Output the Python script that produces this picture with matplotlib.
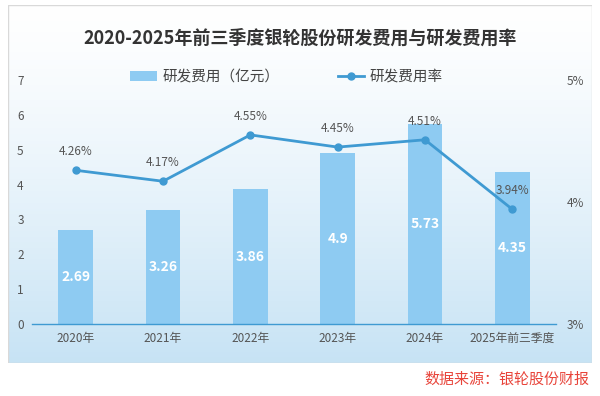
import numpy as np
import matplotlib
matplotlib.use("Agg")
import matplotlib.pyplot as plt
from matplotlib.patches import Rectangle

plt.rcParams['font.family'] = ['Noto Sans CJK SC', 'DejaVu Sans']

# data
years = ['2020年', '2021年', '2022年', '2023年', '2024年', '2025年前三季度']
rd_cost = [2.69, 3.26, 3.86, 4.9, 5.73, 4.35]
rd_rate = [4.26, 4.17, 4.55, 4.45, 4.51, 3.94]
left_ticks = [0, 1, 2, 3, 4, 5, 6, 7]
right_ticks = [3, 4, 5]

bar_color = '#8ecbf2'
line_color = '#3f9ad2'
text_gray = '#555555'

fig = plt.figure(figsize=(6, 3.96), dpi=100)

# panel background with a soft vertical gradient
bg = fig.add_axes([8 / 600, 1 - 363 / 396, 584 / 600, 358 / 396])
grad = np.linspace(0, 1, 256).reshape(-1, 1)
top = np.array([1.0, 1.0, 1.0])
bottom = np.array([0.78, 0.89, 0.96])
img = top + (bottom - top) * grad[..., None] ** 1.3
bg.imshow(img, aspect='auto', extent=[0, 1, 0, 1])
bg.add_patch(Rectangle((0, 0), 1, 1, transform=bg.transAxes, fill=False,
                       edgecolor='#d9d9d9', lw=1))
bg.set_axis_off()

# main axes
ax = fig.add_axes([32 / 600, 1 - 324 / 396, 524 / 600, (324 - 80) / 396])
ax.patch.set_alpha(0)
x = np.arange(len(years))
bars = ax.bar(x, rd_cost, width=0.4, color=bar_color, zorder=2,
              label='研发费用（亿元）')
for xi, v in zip(x, rd_cost):
    ax.text(xi, v / 2, f'{v:g}', ha='center', va='center', color='white',
            fontsize=10, fontweight='bold', zorder=3)

ax.set_xlim(-0.5, len(years) - 0.5)
ax.set_ylim(0, 7)
ax.set_yticks(left_ticks)
ax.set_xticks(x)
ax.set_xticklabels(years)
for s in ['top', 'right', 'left']:
    ax.spines[s].set_visible(False)
ax.spines['bottom'].set_color(line_color)
ax.spines['bottom'].set_linewidth(1)
ax.tick_params(axis='both', length=0, colors=text_gray, labelsize=8.5)
ax.tick_params(axis='y', pad=6)
ax.tick_params(axis='x', pad=6)

ax2 = ax.twinx()
ax2.patch.set_alpha(0)
ax2.plot(x, rd_rate, color=line_color, lw=2, marker='o', markersize=5,
         zorder=4, label='研发费用率')
for xi, v in zip(x, rd_rate):
    ax2.text(xi, v + 0.1, f'{v:.2f}%', ha='center', va='bottom',
             color=text_gray, fontsize=8.5, zorder=5)
ax2.set_ylim(3, 5)
ax2.set_yticks(right_ticks)
ax2.set_yticklabels([f'{t}%' for t in right_ticks])
for s in ax2.spines.values():
    s.set_visible(False)
ax2.tick_params(axis='y', length=0, colors=text_gray, labelsize=8.5, pad=8)

# legend
h1, l1 = ax.get_legend_handles_labels()
h2, l2 = ax2.get_legend_handles_labels()
fig.legend(h1 + h2, l1 + l2, loc='center', bbox_to_anchor=(0.478, 1 - 77 / 396),
           ncol=2, frameon=False, fontsize=10.5, columnspacing=4,
           handlelength=1.8, handletextpad=0.4, labelcolor='#444444')

fig.text(0.5, 1 - 38 / 396, '2020-2025年前三季度银轮股份研发费用与研发费用率',
         ha='center', va='center', fontsize=13, fontweight='bold',
         color='#333333')
fig.text(589 / 600, 1 - 380 / 396, '数据来源：银轮股份财报', ha='right',
         va='center', fontsize=10.8, color='#e8443a')

fig.savefig('out.png', dpi=100)
